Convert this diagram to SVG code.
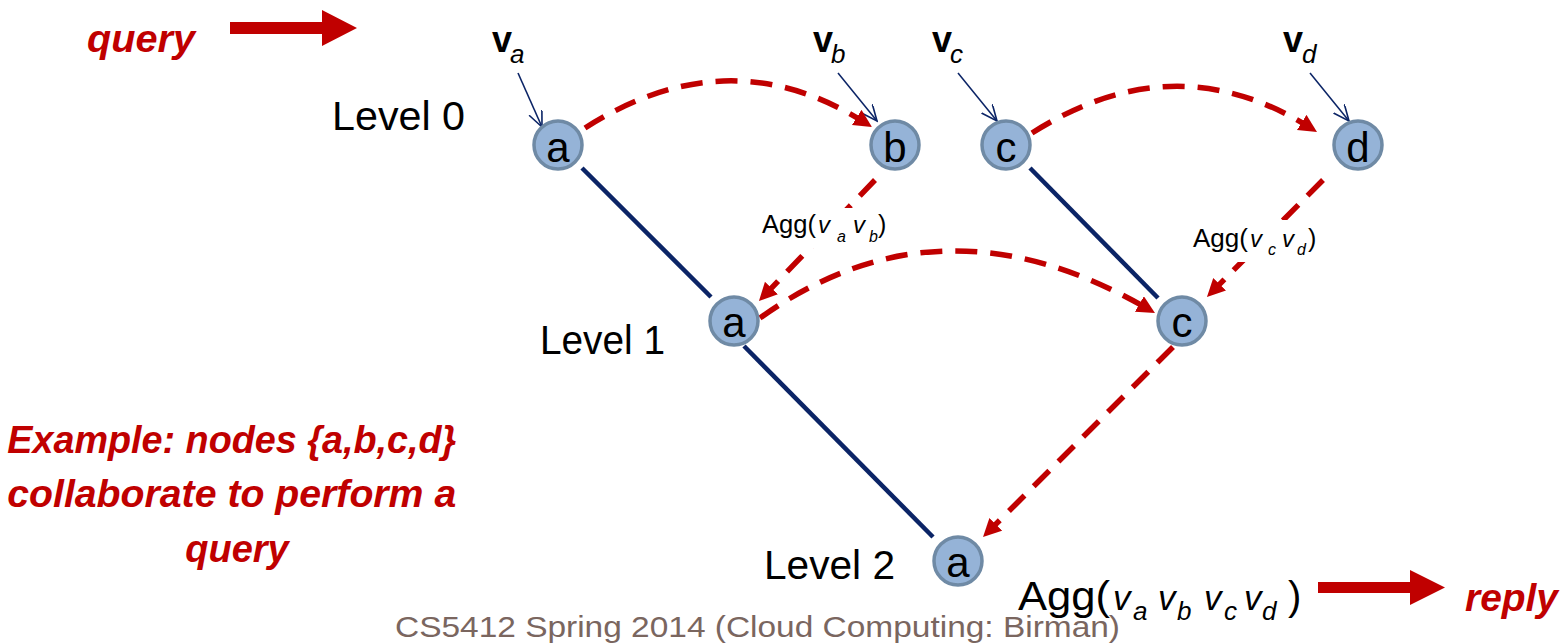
<svg xmlns="http://www.w3.org/2000/svg" width="1566" height="644" viewBox="0 0 1566 644">
<style>
  .node circle { fill:#95b3d7; stroke:#6f8aa5; stroke-width:3.5; }
  .node text { font-family:"Liberation Sans", Arial, sans-serif; font-size:42px; fill:#000; text-anchor:middle; }
  .tree { stroke:#0b2466; stroke-width:4.5; fill:none; }
  .msg { stroke:#c00000; stroke-width:5.5; fill:none; stroke-dasharray:22 13; marker-end:url(#ah); }
  .inp { stroke:#0b2466; stroke-width:1.6; fill:none; marker-end:url(#oh); }
  .lbl { font-family:"Liberation Sans", Arial, sans-serif; fill:#000; }
  .red { font-family:"Liberation Sans", Arial, sans-serif; font-weight:bold; font-style:italic; fill:#c00000; }
  .it { font-style:italic; }
</style>
<defs>
  <marker id="ah" markerUnits="userSpaceOnUse" markerWidth="20" markerHeight="20" refX="8" refY="9" orient="auto">
    <path d="M0,0 L18,9 L0,18 z" fill="#c00000"/>
  </marker>
  <marker id="oh" markerUnits="userSpaceOnUse" markerWidth="18" markerHeight="16" refX="16" refY="7" orient="auto">
    <path d="M0,0 L16,7 L0,14" fill="none" stroke="#0b2466" stroke-width="1.6"/>
  </marker>
</defs>
<rect width="1566" height="644" fill="#fff"/>

<!-- side texts -->
<text class="red" x="87" y="52" font-size="39" textLength="108" lengthAdjust="spacingAndGlyphs">query</text>
<path d="M230,22 H322 V10 L357,28 L322,46 V34 H230 Z" fill="#c00000"/>
<text class="red" font-size="38" text-anchor="middle">
  <tspan x="237" y="453" textLength="449" lengthAdjust="spacingAndGlyphs">Example: nodes {a,b,c,d}</tspan>
  <tspan x="237" y="507" textLength="449" lengthAdjust="spacingAndGlyphs">collaborate to perform a</tspan>
  <tspan x="237" y="562">query</tspan>
</text>
<path d="M1318,582 H1410 V570 L1445,587.5 L1410,605 V593 H1318 Z" fill="#c00000"/>
<text class="red" x="1465" y="611" font-size="39" textLength="93" lengthAdjust="spacingAndGlyphs">reply</text>

<!-- level labels -->
<text class="lbl" x="332" y="130" font-size="40" textLength="133" lengthAdjust="spacingAndGlyphs">Level 0</text>
<text class="lbl" x="540" y="354" font-size="40" textLength="125" lengthAdjust="spacingAndGlyphs">Level 1</text>
<text class="lbl" x="764" y="579" font-size="40" textLength="131" lengthAdjust="spacingAndGlyphs">Level 2</text>

<!-- value labels -->
<text class="lbl" font-size="36"><tspan x="492" y="52" font-weight="bold">v</tspan><tspan x="510" y="63" font-size="26" class="it">a</tspan></text>
<text class="lbl" font-size="36"><tspan x="813" y="52" font-weight="bold">v</tspan><tspan x="831" y="63" font-size="26" class="it">b</tspan></text>
<text class="lbl" font-size="36"><tspan x="932" y="52" font-weight="bold">v</tspan><tspan x="950" y="63" font-size="26" class="it">c</tspan></text>
<text class="lbl" font-size="36"><tspan x="1283" y="52" font-weight="bold">v</tspan><tspan x="1302" y="63" font-size="26" class="it">d</tspan></text>

<!-- connectors -->
<g id="connectors">
  <line class="tree" x1="582" y1="168" x2="711" y2="297"/>
  <line class="tree" x1="744" y1="346" x2="933" y2="537"/>
  <line class="tree" x1="1030" y1="168" x2="1158" y2="298"/>

  <line class="inp" x1="518" y1="73" x2="542" y2="127"/>
  <line class="inp" x1="838" y1="73" x2="877" y2="121"/>
  <line class="inp" x1="958" y1="73" x2="997" y2="121"/>
  <line class="inp" x1="1310" y1="73" x2="1349" y2="121"/>

  <path class="msg" d="M585,128 Q728,37 863.5,121.7"/>
  <path class="msg" d="M1032,133 Q1174,43 1308.5,126.7"/>
  <path class="msg" d="M760,318 Q940,189 1146.3,308"/>
  <line class="msg" x1="875" y1="180" x2="765.9" y2="293.8"/>
  <line class="msg" x1="1323" y1="180" x2="1214" y2="289.9"/>
  <line class="msg" x1="1173" y1="347" x2="990.1" y2="529.9"/>
</g>

<!-- small aggregate labels -->
<rect x="758" y="208" width="134" height="40" fill="#fff"/>
<text class="lbl" font-size="25"><tspan x="762" y="233" textLength="54" lengthAdjust="spacingAndGlyphs">Agg(</tspan><tspan x="818" class="it" font-size="24">v</tspan><tspan x="837" y="242" class="it" font-size="16">a</tspan><tspan x="853" y="233" class="it" font-size="24">v</tspan><tspan x="869" y="242" class="it" font-size="16">b</tspan><tspan x="878" y="233">)</tspan></text>
<rect x="1189" y="220" width="132" height="42" fill="#fff"/>
<text class="lbl" font-size="25"><tspan x="1193" y="247" textLength="55" lengthAdjust="spacingAndGlyphs">Agg(</tspan><tspan x="1250" class="it" font-size="24">v</tspan><tspan x="1268" y="255" class="it" font-size="16">c</tspan><tspan x="1282" y="247" class="it" font-size="24">v</tspan><tspan x="1297" y="255" class="it" font-size="16">d</tspan><tspan x="1308" y="247">)</tspan></text>

<!-- nodes -->
<g id="node-a0" class="node"><circle cx="558" cy="145" r="24"/><text x="558" y="162">a</text></g>
<g id="node-b0" class="node"><circle cx="895" cy="145" r="24"/><text x="895" y="162">b</text></g>
<g id="node-c0" class="node"><circle cx="1006" cy="145" r="24"/><text x="1006" y="162">c</text></g>
<g id="node-d0" class="node"><circle cx="1358" cy="145" r="24"/><text x="1358" y="162">d</text></g>
<g id="node-a1" class="node"><circle cx="734" cy="321" r="24"/><text x="734" y="337">a</text></g>
<g id="node-c1" class="node"><circle cx="1182" cy="321" r="24"/><text x="1182" y="337">c</text></g>
<g id="node-a2" class="node"><circle cx="958" cy="561" r="24"/><text x="958" y="577">a</text></g>

<!-- result -->
<text class="lbl" font-size="40"><tspan x="1018" y="610" textLength="92" lengthAdjust="spacingAndGlyphs">Agg(</tspan><tspan x="1113" class="it" font-size="35">v</tspan><tspan x="1133" y="620" class="it" font-size="26">a</tspan><tspan x="1158" y="610" class="it" font-size="35">v</tspan><tspan x="1177" y="620" class="it" font-size="26">b</tspan><tspan x="1204" y="610" class="it" font-size="35">v</tspan><tspan x="1224" y="620" class="it" font-size="26">c</tspan><tspan x="1244" y="610" class="it" font-size="35">v</tspan><tspan x="1262" y="620" class="it" font-size="26">d</tspan><tspan x="1288" y="610">)</tspan></text>

<!-- footer -->
<text x="395" y="637" font-family="Liberation Sans, Arial, sans-serif" font-size="30" fill="#7a665f" textLength="725" lengthAdjust="spacingAndGlyphs">CS5412 Spring 2014 (Cloud Computing: Birman)</text>
</svg>
